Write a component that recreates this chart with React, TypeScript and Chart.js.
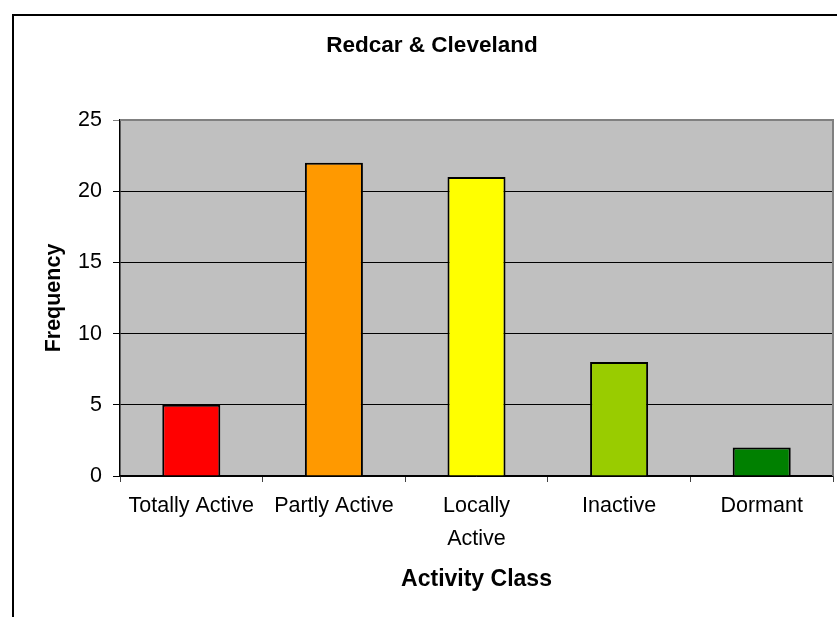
import React, { useEffect, useRef } from "react";
import { Chart, registerables } from "chart.js";

Chart.register(...registerables);

const chartTitle = "Redcar & Cleveland";
const categories: (string | string[])[] = ["Totally Active", "Partly Active", ["Locally", "Active"], "Inactive", "Dormant"];
const frequencies = [5, 22, 21, 8, 2];
const barColors = ["#FF0000", "#FF9900", "#FFFF00", "#99CC00", "#008000"];
const yTitle = "Frequency";
const xTitle = "Activity Class";

const FONT = "'Liberation Sans', Arial, sans-serif";

export default function App() {
  const ref = useRef<HTMLCanvasElement | null>(null);

  useEffect(() => {
    if (!ref.current) return;
    const decor = {
      id: "decor",
      beforeDraw(chart: any) {
        const { ctx, chartArea: a } = chart;
        ctx.save();
        ctx.fillStyle = "#C0C0C0";
        ctx.fillRect(a.left, a.top, a.right - a.left, a.bottom - a.top);
        ctx.restore();
      },
      beforeDatasetsDraw(chart: any) {
        const { ctx, chartArea: a } = chart;
        ctx.save();
        ctx.strokeStyle = "#808080";
        ctx.lineWidth = 2;
        ctx.beginPath();
        ctx.moveTo(a.left, a.top);
        ctx.lineTo(a.right, a.top);
        ctx.lineTo(a.right, a.bottom);
        ctx.stroke();
        ctx.restore();
      },
      afterDraw(chart: any) {
        const { ctx } = chart;
        ctx.save();
        ctx.strokeStyle = "#000";
        ctx.lineWidth = 2;
        ctx.beginPath();
        ctx.moveTo(13, 617);
        ctx.lineTo(13, 15);
        ctx.lineTo(837, 15);
        ctx.stroke();
        ctx.fillStyle = "#000";
        ctx.font = `bold 22.5px ${FONT}`;
        ctx.textAlign = "center";
        ctx.textBaseline = "middle";
        ctx.fillText(chartTitle, 432, 46);
        ctx.restore();
      },
    };

    const chart = new Chart(ref.current, {
      type: "bar",
      data: {
        labels: categories,
        datasets: [
          {
            data: frequencies,
            backgroundColor: barColors,
            borderColor: "#000",
            borderWidth: 2,
            categoryPercentage: 1,
            barPercentage: 0.407,
          },
        ],
      },
      options: {
        responsive: false,
        animation: false,
        devicePixelRatio: 1,
        layout: { padding: { top: 120, right: 4, left: 0, bottom: 0 } },
        plugins: { legend: { display: false }, title: { display: false }, tooltip: { enabled: false } },
        scales: {
          x: {
            grid: { display: true, drawOnChartArea: false, drawTicks: true, tickLength: 6, color: "#404040", offset: true },
            border: { display: true, color: "#000", width: 1.5 },
            ticks: {
              color: "#000",
              font: { family: FONT, size: 21.5, lineHeight: 1.53 },
              padding: 8,
              maxRotation: 0,
              minRotation: 0,
              autoSkip: false,
            },
            title: {
              display: true,
              text: xTitle,
              color: "#000",
              font: { family: FONT, size: 23, weight: "bold", lineHeight: 1.2 },
              padding: { top: 0, bottom: 24 },
            },
            afterFit(scale: any) {
              scale.height = 141;
            },
          },
          y: {
            min: 0,
            max: 25,
            ticks: {
              stepSize: 5,
              color: "#000",
              font: { family: FONT, size: 21.5 },
              padding: 11,
            },
            grid: {
              color: (c: any) => (c.tick && c.tick.value === 25 ? "#808080" : "#000"),
              lineWidth: 1,
              tickLength: 7,
              drawTicks: true,
            },
            border: { display: true, color: "#000", width: 1.5 },
            title: {
              display: true,
              text: yTitle,
              color: "#000",
              font: { family: FONT, size: 21.5, weight: "bold", lineHeight: 1.2 },
              padding: { top: 41, bottom: 0 },
            },
            afterFit(scale: any) {
              scale.width = 120;
            },
          },
        },
      },
      plugins: [decor],
    });
    return () => chart.destroy();
  }, []);

  return (
    <div style={{ position: "fixed", left: 0, top: 0, width: 837, height: 617, background: "#fff" }}>
      <canvas ref={ref} width={837} height={617} style={{ width: 837, height: 617, display: "block" }} />
    </div>
  );
}
